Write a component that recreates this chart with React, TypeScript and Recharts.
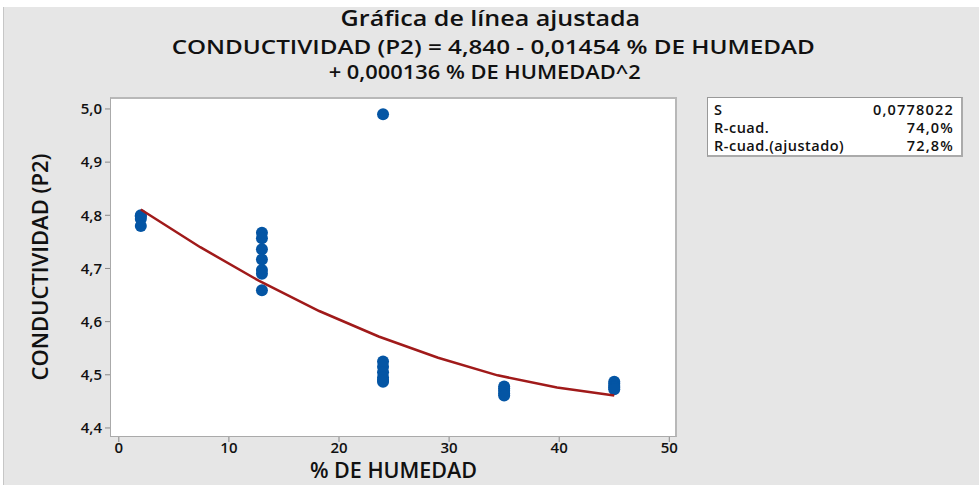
import { ScatterChart, Scatter, XAxis, YAxis } from 'recharts'

// % de humedad levels and measured conductivity at each level
const HUMEDAD = [2, 13, 24, 35, 45]
const COND_2 = [4.8, 4.798, 4.793, 4.78]
const COND_13 = [4.767, 4.757, 4.736, 4.717, 4.697, 4.69, 4.659]
const COND_24 = [4.99, 4.525, 4.515, 4.505, 4.495, 4.49, 4.487]
const COND_35 = [4.478, 4.474, 4.47, 4.465, 4.461]
const COND_45 = [4.487, 4.483, 4.479, 4.476, 4.473]

// fitted curve as drawn
const FIT_X = [2, 7.4, 12.8, 18.2, 23.6, 29, 34.4, 39.8, 45]
const FIT_Y = [4.811, 4.74, 4.676, 4.62, 4.572, 4.532, 4.499, 4.476, 4.461]

const X_TICKS = [0, 10, 20, 30, 40, 50]
const Y_TICKS = [4.4, 4.5, 4.6, 4.7, 4.8, 4.9, 5.0]

const STATS = [
  { label: 'S', value: '0,0778022' },
  { label: 'R-cuad.', value: '74,0%' },
  { label: 'R-cuad.(ajustado)', value: '72,8%' },
]

const FONT = '"Open Sans", "Noto Sans", sans-serif'

const groups = [COND_2, COND_13, COND_24, COND_35, COND_45]
const points = groups.flatMap((vals, i) => vals.map(y => ({ x: HUMEDAD[i], y })))
const fit = FIT_X.map((x, i) => ({ x, y: FIT_Y[i] }))

const dot = (p: any) => <circle cx={p.cx} cy={p.cy} r={6} fill="#0455a4" />
const none = () => <g />

// one centred title line, stretched a bit to match the original's wide face
function TitleLine({ text, top, size, sx, shift = 0 }: { text: string; top: number; size: number; sx: number; shift?: number }) {
  return (
    <div style={{ position: 'absolute', left: shift, width: 979, top, textAlign: 'center', lineHeight: 1.2 }}>
      <span style={{ display: 'inline-block', fontSize: size, fontWeight: 600, color: '#111', transform: `scaleX(${sx})` }}>{text}</span>
    </div>
  )
}

export default function App() {
  return (
    <div style={{ position: 'relative', width: 979, height: 485, background: '#fff', fontFamily: FONT, overflow: 'hidden' }}>
      <style>{'body{margin:0}'}</style>
      <div style={{ position: 'absolute', left: 3, top: 7, width: 976, height: 478, background: '#e6e6e6', borderLeft: '1px solid #c6c6c6', boxSizing: 'border-box' }} />

      <TitleLine text="Gráfica de línea ajustada" top={4} size={22} sx={1.14} shift={1} />
      <TitleLine text="CONDUCTIVIDAD (P2) = 4,840 - 0,01454 % DE HUMEDAD" top={36} size={19} sx={1.275} shift={4} />
      <TitleLine text="+ 0,000136 % DE HUMEDAD^2" top={61} size={19} sx={1.15} shift={-5} />

      <div style={{ position: 'absolute', left: 110, top: 97, width: 567, height: 340, background: '#fff', border: '1px solid #aaa', borderTop: '2px solid #b8b8b8', borderRight: '2px solid #b8b8b8', boxSizing: 'border-box' }} />

      <div style={{ position: 'absolute', left: 707, top: 97, width: 256, height: 60, background: '#fff', border: '1px solid #999', borderRight: '2px solid #aaa', borderBottom: '2px solid #aaa', boxSizing: 'border-box', padding: '3px 7px 0 6px', fontSize: 14.5, fontWeight: 600, color: '#111' }}>
        {STATS.map(s => (
          <div key={s.label} style={{ display: 'flex', justifyContent: 'space-between', lineHeight: '18px' }}>
            <span style={{ letterSpacing: 0.5 }}>{s.label}</span>
            <span style={{ letterSpacing: 1.2 }}>{s.value}</span>
          </div>
        ))}
      </div>

      <div style={{ position: 'absolute', left: 0, top: 0 }}>
        <ScatterChart width={979} height={485} margin={{ top: 97, right: 302, bottom: 18, left: 65 }}>
          <XAxis
            type="number"
            dataKey="x"
            domain={[-0.8, 50.7]}
            allowDataOverflow
            ticks={X_TICKS}
            axisLine={false}
            tickLine={{ stroke: '#888' }}
            tickSize={5}
            tickMargin={0}
            height={30}
            tick={{ fontSize: 15, fontWeight: 600, fill: '#111', fontFamily: FONT }}
            label={{ value: '% DE HUMEDAD', position: 'bottom', offset: -4, style: { fontSize: 21.5, fontWeight: 600, fill: '#111', fontFamily: FONT } }}
          />
          <YAxis
            type="number"
            dataKey="y"
            domain={[4.383, 5.0225]}
            allowDataOverflow
            ticks={Y_TICKS}
            tickFormatter={(v: number) => v.toFixed(1).replace('.', ',')}
            axisLine={false}
            tickLine={{ stroke: '#888' }}
            tickSize={5}
            tickMargin={3}
            width={45}
            tick={{ fontSize: 15, fontWeight: 600, fill: '#111', fontFamily: FONT }}
            label={{ value: 'CONDUCTIVIDAD (P2)', angle: -90, position: 'left', offset: 25, style: { fontSize: 22, fontWeight: 600, fill: '#111', fontFamily: FONT, textAnchor: 'middle' } }}
          />
          <Scatter data={points} shape={dot} isAnimationActive={false} />
          <Scatter
            data={fit}
            shape={none}
            line={{ stroke: '#a01a1a', strokeWidth: 2.5 }}
            lineType="joint"
            isAnimationActive={false}
          />
        </ScatterChart>
      </div>
    </div>
  )
}
